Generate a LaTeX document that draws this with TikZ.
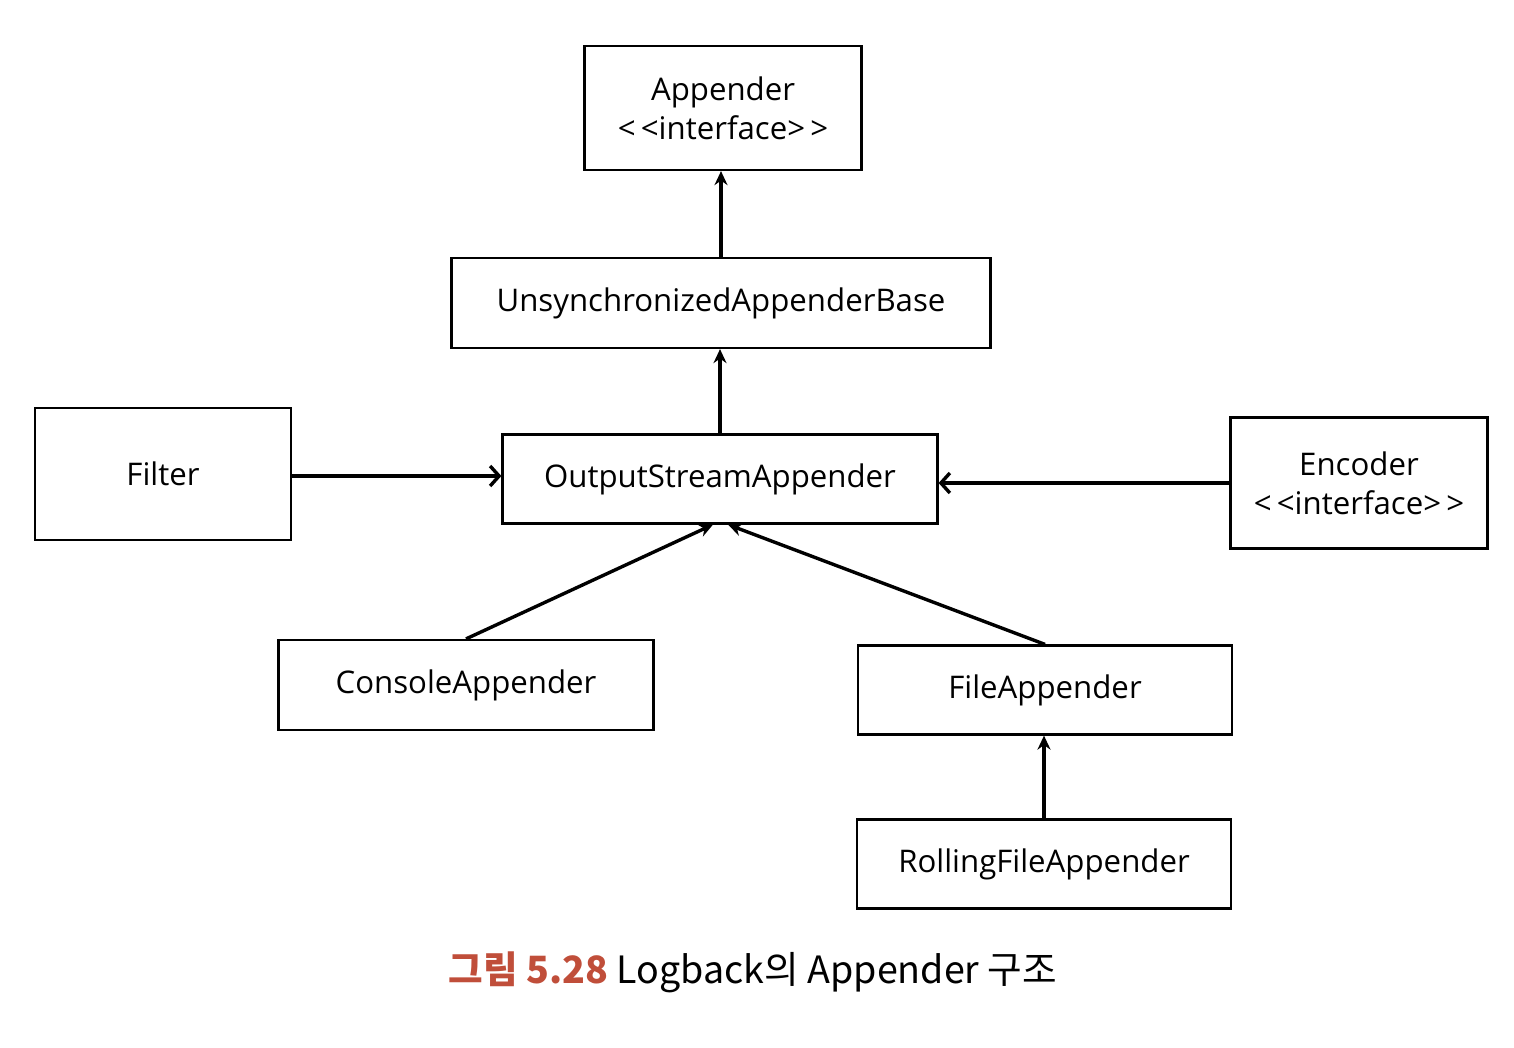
\documentclass[tikz,border=0pt]{standalone}
\usepackage{fontspec}
\setmainfont{Open Sans}
\newfontfamily\kfont{Noto Sans CJK KR}
\usepackage{tikz}
\usetikzlibrary{arrows.meta, % for arrow tips
                positioning}
\definecolor{capred}{RGB}{192,78,58}

\begin{document}
\begin{tikzpicture}[%
    x=0.5pt, y=-0.5pt,
    Cls/.style={draw, line width=1.1pt, rectangle, inner sep=0pt, align=center,
                font=\fontsize{15.6}{19.5}\selectfont},
    Inherit/.style={line width=1.7pt, -{Stealth[length=7pt,width=6.5pt]}},
    Uses/.style={line width=1.7pt, -{Straight Barb[length=4.5pt,width=10pt,line width=1.7pt]}}
    ]
    \useasboundingbox (0,0) rectangle (1514,1048);

    %class nodes
    \node[Cls, minimum width=138.5pt, minimum height=62pt] at (723,108) (App)
        {Appender\\<\,<interface>\,>};
    \node[Cls, minimum width=269.5pt, minimum height=45pt] at (721,303) (UAB)
        {UnsynchronizedAppenderBase};
    \node[Cls, minimum width=217.5pt, minimum height=44.5pt] at (720,479) (OSA)
        {OutputStreamAppender};
    \node[Cls, minimum width=128pt, minimum height=66pt] at (163,474) (Filter)
        {Filter};
    \node[Cls, minimum width=128.5pt, minimum height=65.5pt] at (1359,483) (Enc)
        {Encoder\\<\,<interface>\,>};
    \node[Cls, minimum width=187.5pt, minimum height=45pt] at (466,685) (Con)
        {ConsoleAppender};
    \node[Cls, minimum width=187pt, minimum height=44.5pt] at (1045,690) (File)
        {FileAppender};
    \node[Cls, minimum width=187pt, minimum height=44.5pt] at (1044,864) (Roll)
        {RollingFileAppender};

    %inheritance arrows
    \draw[Inherit] (UAB.north) -- (UAB.north |- App.south);
    \draw[Inherit] (OSA.north) -- (OSA.north |- UAB.south);
    \draw[Inherit] (Con.north) -- ([xshift=-3.5pt]OSA.south);
    \draw[Inherit] (File.north) -- ([xshift=4pt]OSA.south);
    \draw[Inherit] (Roll.north) -- (Roll.north |- File.south);

    %uses arrows
    \draw[Uses] ([yshift=-1pt]Filter.east) -- ([yshift=-1pt]Filter.east -| OSA.west);
    \draw[Uses] (Enc.west) -- (Enc.west -| OSA.east);

    %caption
    \node[font=\kfont\fontsize{18.8}{22}\selectfont] at (753,972) (Cap)
        {{\color{capred}\bfseries 그림 5.28} Logback의 Appender 구조};
\end{tikzpicture}
\end{document}
